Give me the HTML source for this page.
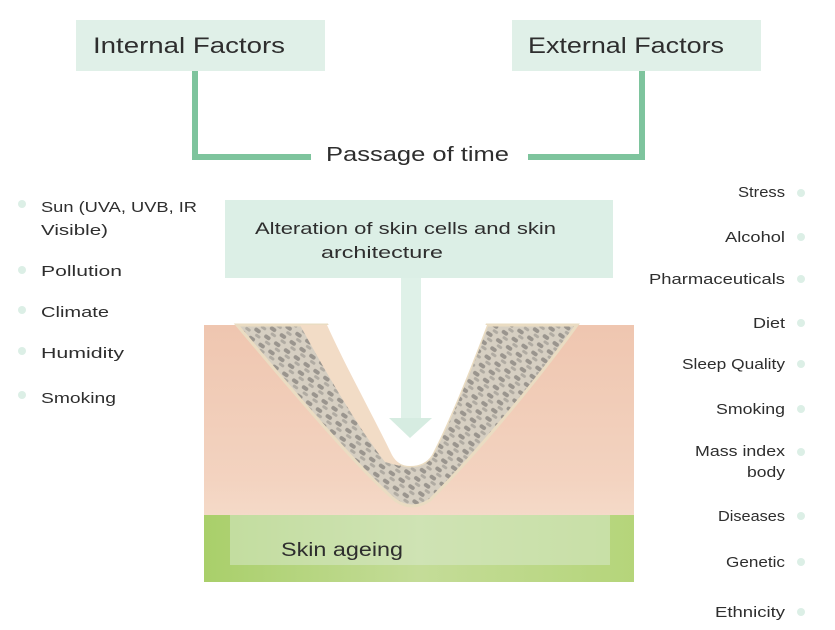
<!DOCTYPE html>
<html><head><meta charset="utf-8"><style>
html,body{margin:0;padding:0;background:#fff;}
svg{display:block;}
text{font-family:"Liberation Sans",sans-serif;fill:#2e2e2e;}
</style></head><body>
<svg width="835" height="630" viewBox="0 0 835 630" xmlns="http://www.w3.org/2000/svg">
<defs>
<linearGradient id="skin" x1="0" y1="0" x2="0" y2="1">
<stop offset="0" stop-color="#efc6b0"/><stop offset="0.6" stop-color="#f3d3c0"/><stop offset="1" stop-color="#f6e6d6"/>
</linearGradient>
<linearGradient id="grass" x1="0" y1="0" x2="1" y2="0">
<stop offset="0" stop-color="#a9cf6a"/><stop offset="0.5" stop-color="#c4dc98"/><stop offset="1" stop-color="#b5d57a"/>
</linearGradient>
<pattern id="cells" width="12" height="10" patternUnits="userSpaceOnUse" patternTransform="rotate(35)">
<rect width="12" height="10" fill="#d6cfc2"/>
<rect x="1" y="1" width="7" height="4" rx="2" fill="#9a958e"/>
<rect x="5" y="6" width="6" height="3" rx="1.5" fill="#b0aba2"/>
</pattern>
</defs>
<rect x="76" y="20" width="249" height="51" fill="#e0f0e8"/>
<text x="93" y="53" font-size="22" textLength="192" lengthAdjust="spacingAndGlyphs">Internal Factors</text>
<rect x="512" y="20" width="249" height="51" fill="#e0f0e8"/>
<text x="528" y="53" font-size="22" textLength="196" lengthAdjust="spacingAndGlyphs">External Factors</text>
<polyline points="195,71 195,157 311,157" fill="none" stroke="#7ec49d" stroke-width="6"/>
<polyline points="642,71 642,157 528,157" fill="none" stroke="#7ec49d" stroke-width="6"/>
<text x="326" y="161" font-size="20" textLength="183" lengthAdjust="spacingAndGlyphs">Passage of time</text>
<rect x="204" y="325" width="430" height="257" fill="url(#skin)"/>
<path d="M237,325 C300,400 360,470 395,500 Q412,512 430,500 C470,460 530,390 577,325 L487,325 C470,370 450,420 432,455 Q425,466 410,466 Q398,466 392,455 C370,410 345,365 327,325 Z" fill="url(#cells)" stroke="#eadcc2" stroke-width="3"/>
<path d="M300,325 C330,380 360,430 385,462 L400,466 C380,420 350,370 327,325 Z" fill="#f2dcc6"/>
<path d="M327,325 C345,365 370,410 392,455 Q398,466 410,466 Q425,466 432,455 C450,420 470,370 487,325 Z" fill="#fff"/>
<rect x="204" y="515" width="430" height="67" fill="url(#grass)"/>
<rect x="230" y="515" width="380" height="50" fill="#d9ead0" opacity="0.5"/>
<text x="281" y="556" font-size="19" textLength="122" lengthAdjust="spacingAndGlyphs">Skin ageing</text>
<rect x="225" y="200" width="388" height="78" fill="#dcefe6"/>
<text x="255" y="234" font-size="17" textLength="301" lengthAdjust="spacingAndGlyphs">Alteration of skin cells and skin</text>
<text x="321" y="258" font-size="17" textLength="122" lengthAdjust="spacingAndGlyphs">architecture</text>
<rect x="401" y="278" width="20" height="140" fill="#dcefe6" opacity="0.9"/>
<polygon points="389,418 432,418 410,438" fill="#d6ece1"/>
<g fill="#dcefe6">
<circle cx="22" cy="204" r="4"/><circle cx="22" cy="270" r="4"/><circle cx="22" cy="310" r="4"/><circle cx="22" cy="351" r="4"/><circle cx="22" cy="395" r="4"/>
</g>
<g font-size="15">
<text x="41" y="212" textLength="156" lengthAdjust="spacingAndGlyphs">Sun (UVA, UVB, IR</text>
<text x="41" y="235" textLength="67" lengthAdjust="spacingAndGlyphs">Visible)</text>
<text x="41" y="276" textLength="81" lengthAdjust="spacingAndGlyphs">Pollution</text>
<text x="41" y="317" textLength="68" lengthAdjust="spacingAndGlyphs">Climate</text>
<text x="41" y="358" textLength="83" lengthAdjust="spacingAndGlyphs">Humidity</text>
<text x="41" y="403" textLength="75" lengthAdjust="spacingAndGlyphs">Smoking</text>
</g>
<g fill="#dcefe6">
<circle cx="801" cy="193" r="4"/><circle cx="801" cy="237" r="4"/><circle cx="801" cy="279" r="4"/><circle cx="801" cy="323" r="4"/><circle cx="801" cy="364" r="4"/><circle cx="801" cy="409" r="4"/><circle cx="801" cy="452" r="4"/><circle cx="801" cy="516" r="4"/><circle cx="801" cy="562" r="4"/><circle cx="801" cy="612" r="4"/>
</g>
<g font-size="14.5">
<text x="738" y="197" textLength="47" lengthAdjust="spacingAndGlyphs">Stress</text>
<text x="725" y="242" textLength="60" lengthAdjust="spacingAndGlyphs">Alcohol</text>
<text x="649" y="284" textLength="136" lengthAdjust="spacingAndGlyphs">Pharmaceuticals</text>
<text x="753" y="328" textLength="32" lengthAdjust="spacingAndGlyphs">Diet</text>
<text x="682" y="369" textLength="103" lengthAdjust="spacingAndGlyphs">Sleep Quality</text>
<text x="716" y="414" textLength="69" lengthAdjust="spacingAndGlyphs">Smoking</text>
<text x="695" y="456" textLength="90" lengthAdjust="spacingAndGlyphs">Mass index</text>
<text x="747" y="477" textLength="38" lengthAdjust="spacingAndGlyphs">body</text>
<text x="718" y="521" textLength="67" lengthAdjust="spacingAndGlyphs">Diseases</text>
<text x="726" y="567" textLength="59" lengthAdjust="spacingAndGlyphs">Genetic</text>
<text x="715" y="617" textLength="70" lengthAdjust="spacingAndGlyphs">Ethnicity</text>
</g>
</svg>
</body></html>
